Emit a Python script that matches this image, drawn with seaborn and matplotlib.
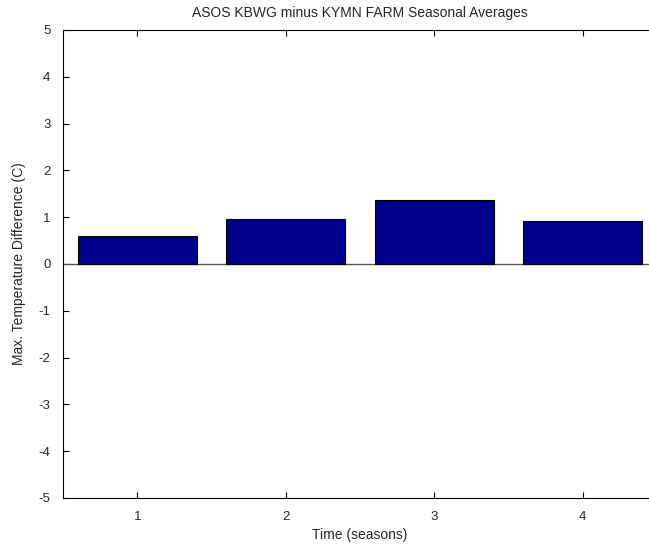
import numpy as np
import pandas as pd
import matplotlib
matplotlib.use("Agg")
import matplotlib.pyplot as plt
import seaborn as sns

seasons = [1, 2, 3, 4]
temp_diff = [0.59, 0.97, 1.36, 0.91]

df = pd.DataFrame({"season": seasons, "diff": temp_diff})

sns.set_style("white")
plt.rcParams["font.family"] = ["Liberation Sans", "DejaVu Sans"]
plt.rcParams["axes.unicode_minus"] = False

fig = plt.figure(figsize=(6.49, 5.5), dpi=100)
# right edge of the axes falls outside the figure, like the original crop
ax = fig.add_axes([63 / 649, 52 / 550, (657 - 63) / 649, (498 - 30) / 550])

sns.barplot(data=df, x="season", y="diff", native_scale=True, width=0.8,
            color="#00008F", edgecolor="black", linewidth=0.8,
            saturation=1, ax=ax, zorder=2)

ax.axhline(0, color="#555555", linewidth=1, zorder=1)

ax.set_xlim(0.5, 4.5)
ax.set_ylim(-5, 5)
ax.set_xticks(seasons)
ax.set_yticks(np.arange(-5, 6, 1))
ax.tick_params(direction="in", length=4, top=True, right=True,
               bottom=True, left=True, labelsize=9.5, color="black")
ax.tick_params(axis="y", pad=9)
ax.tick_params(axis="x", pad=9)
for s in ax.spines.values():
    s.set_color("black")
    s.set_linewidth(0.8)

ax.set_title("ASOS KBWG minus KYMN FARM Seasonal Averages", fontsize=10, pad=9)
ax.set_xlabel("Time (seasons)", fontsize=10, labelpad=4)
ax.set_ylabel("Max. Temperature Difference (C)", fontsize=10, labelpad=9)

fig.savefig("out.png", dpi=100)
